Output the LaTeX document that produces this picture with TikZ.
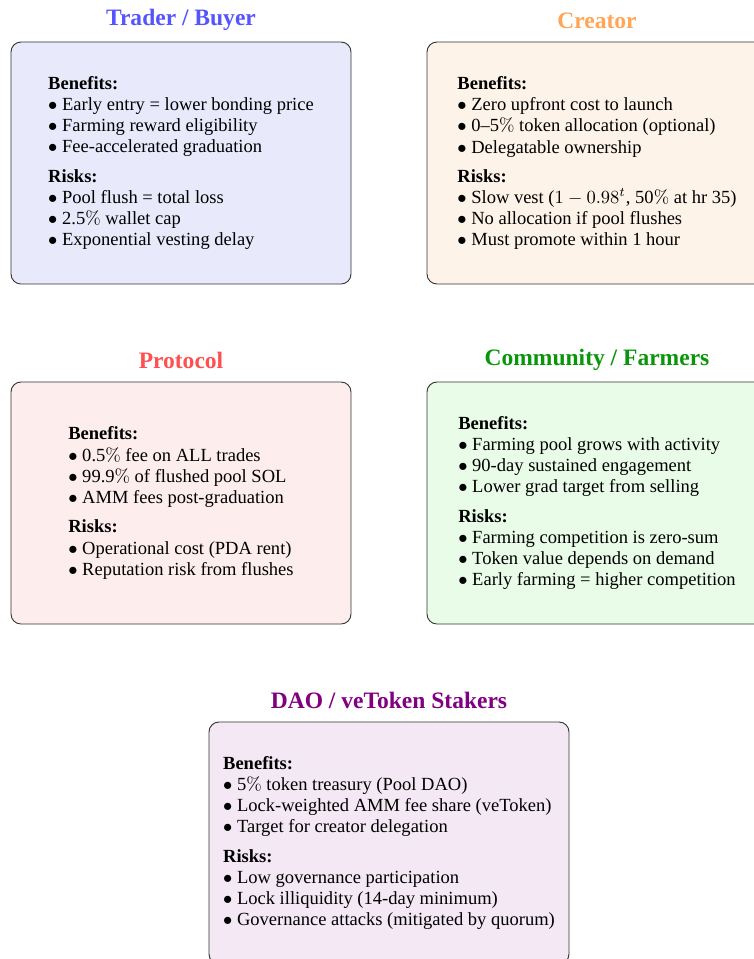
\documentclass[tikz,border=0pt]{standalone}
\usepackage[no-math]{fontspec}
\setmainfont{Liberation Serif}
\definecolor{tfill}{RGB}{233,233,252}
\definecolor{cfill}{RGB}{254,243,232}
\definecolor{pfill}{RGB}{253,237,237}
\definecolor{mfill}{RGB}{232,252,232}
\definecolor{dfill}{RGB}{243,232,243}
\definecolor{tcol}{RGB}{85,85,255}
\definecolor{ccol}{RGB}{255,165,85}
\definecolor{pcol}{RGB}{255,80,80}
\definecolor{mcol}{RGB}{10,150,10}
\definecolor{dcol}{RGB}{128,0,128}
\tikzset{
  card/.style={draw=black!80, line width=0.5pt, rounded corners=5.4pt,
    minimum width=183.6pt, minimum height=130.7pt, align=left,
    font=\fontsize{10}{11.5}\selectfont, inner sep=0pt},
  ttl/.style={font=\fontsize{12.7}{15}\selectfont\bfseries, anchor=base, inner sep=0pt}
}
\newcommand{\itm}{$\bullet$\ }
\newcommand{\pc}{$\%$}
\begin{document}
\begin{tikzpicture}[x=0.54pt, y=-0.54pt]
\useasboundingbox (0,0) rectangle (754,959);
% boxes
\node[card, fill=tfill] (trader) at (181,163) {{\bfseries Benefits:}\\
\itm Early entry = lower bonding price\\
\itm Farming reward eligibility\\
\itm Fee-accelerated graduation\\[4.2pt]
{\bfseries Risks:}\\
\itm Pool flush = total loss\\
\itm 2.5\pc{} wallet cap\\
\itm Exponential vesting delay};
\node[card, fill=cfill] (creator) at (597,163) {{\bfseries Benefits:}\\
\itm Zero upfront cost to launch\\
\itm 0–5\pc{} token allocation (optional)\\
\itm Delegatable ownership\\[4.2pt]
{\bfseries Risks:}\\
\itm Slow vest ($1-0.98^t$, 50\pc{} at hr 35)\\
\itm No allocation if pool flushes\\
\itm Must promote within 1 hour};
\node[card, fill=pfill] (protocol) at (181,503) {{\bfseries Benefits:}\\
\itm 0.5\pc{} fee on ALL trades\\
\itm 99.9\pc{} of flushed pool SOL\\
\itm AMM fees post-graduation\\[4.2pt]
{\bfseries Risks:}\\
\itm Operational cost (PDA rent)\\
\itm Reputation risk from flushes};
\node[card, fill=mfill] (community) at (597,503) {{\bfseries Benefits:}\\
\itm Farming pool grows with activity\\
\itm 90-day sustained engagement\\
\itm Lower grad target from selling\\[4.2pt]
{\bfseries Risks:}\\
\itm Farming competition is zero-sum\\
\itm Token value depends on demand\\
\itm Early farming = higher competition};
\node[card, fill=dfill, minimum width=194.4pt] (dao) at (389,843) {{\bfseries Benefits:}\\
\itm 5\pc{} token treasury (Pool DAO)\\
\itm Lock-weighted AMM fee share (veToken)\\
\itm Target for creator delegation\\[4.2pt]
{\bfseries Risks:}\\
\itm Low governance participation\\
\itm Lock illiquidity (14-day minimum)\\
\itm Governance attacks (mitigated by quorum)};
% titles
\node[ttl, text=tcol] (ttrader) at (181,25) {Trader / Buyer};
\node[ttl, text=ccol] (tcreator) at (597,28) {Creator};
\node[ttl, text=pcol] (tprotocol) at (181,368) {Protocol};
\node[ttl, text=mcol] (tcommunity) at (597,365) {Community / Farmers};
\node[ttl, text=dcol] (tdao) at (389,708) {DAO / veToken Stakers};
\end{tikzpicture}
\end{document}
